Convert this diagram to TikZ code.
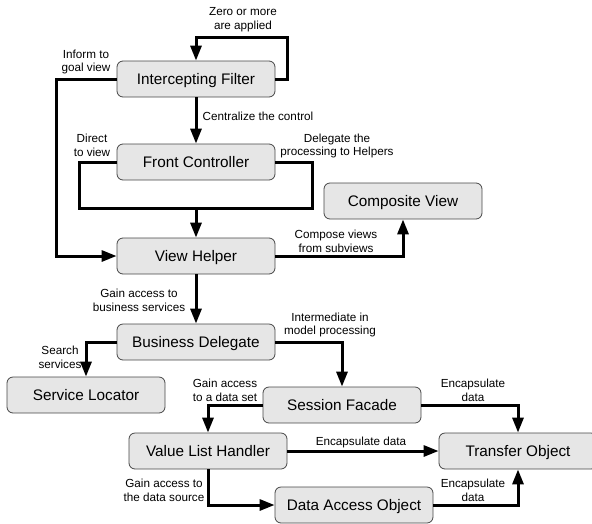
\documentclass[tikz,border=0pt]{standalone}
\usepackage{fontspec}
\setmainfont{Liberation Sans}
\usetikzlibrary{arrows.meta}
\definecolor{boxfill}{RGB}{230,230,230}
\definecolor{boxline}{RGB}{70,70,70}
\begin{document}
\begin{tikzpicture}[x=1pt,y=-1pt,
  pattern/.style={draw=boxline, line width=0.8pt, fill=boxfill, rounded corners=6pt,
    minimum width=158pt, minimum height=36pt, inner sep=0pt,
    text height=11pt, text depth=0pt,
    font=\fontsize{15.3}{18}\selectfont},
  lbl/.style={align=center, inner sep=0pt, font=\fontsize{11.7}{13.8}\selectfont},
  conn/.style={line width=3pt, line join=miter},
  arr/.style={conn, -{Triangle[length=15pt,width=11pt]}}]
\useasboundingbox (0,0) rectangle (592,523);

% patterns
\node[pattern] (if)  at (196,79)  {Intercepting Filter};
\node[pattern] (fc)  at (196,162) {Front Controller};
\node[pattern] (cv)  at (403,201) {Composite View};
\node[pattern] (vh)  at (196,256) {View Helper};
\node[pattern] (bd)  at (196,342) {Business Delegate};
\node[pattern] (sl)  at (86,395)  {Service Locator};
\node[pattern] (sf)  at (342,405) {Session Facade};
\node[pattern] (vlh) at (208,451) {Value List Handler};
\node[pattern] (to)  at (518,451) {Transfer Object};
\node[pattern] (dao) at (354,505) {Data Access Object};

% bend points
\coordinate (loop) at (287,37);
\coordinate (join) at (196,208);

% relations
\draw[arr] (if.east) -| (loop) -| (if.north);
\draw[arr] (if.south) -- (fc.north);
\draw[arr] (if.west) -- ++(-60,0) |- (vh.west);
\draw[conn] (fc.west) -- ++(-37,0) |- (join);
\draw[conn] (fc.east) -- ++(37,0) |- (join);
\draw[arr] (join) -- (vh.north);
\draw[arr] (vh.east) -| (cv.south);
\draw[arr] (vh.south) -- (bd.north);
\draw[arr] (bd.west) -| (sl.north);
\draw[arr] (bd.east) -| (sf.north);
\draw[arr] (sf.west) -| (vlh.north);
\draw[arr] (sf.east) -| (to.north);
\draw[arr] (vlh.east) -- (to.west);
\draw[arr] (vlh.south) |- (dao.west);
\draw[arr] (dao.east) -| (to.south);

% relation labels
\node[lbl] (l1)  at (243,20)  {Zero or more\\are applied};
\node[lbl] (l2)  at (86,62)   {Inform to\\goal view};
\node[lbl] (l3)  at (258,116) {Centralize the control};
\node[lbl] (l4)  at (92,145)  {Direct\\to view};
\node[lbl] (l5)  at (337,146) {Delegate the\\processing to Helpers};
\node[lbl] (l6)  at (336,241) {Compose views\\from subviews};
\node[lbl] (l7)  at (139,300) {Gain access to\\business services};
\node[lbl] (l8)  at (60,357)  {Search\\services};
\node[lbl] (l9)  at (330,325) {Intermediate in\\model processing};
\node[lbl] (l10) at (225,390) {Gain access\\to a data set};
\node[lbl] (l11) at (473,390) {Encapsulate\\data};
\node[lbl] (l12) at (361,442) {Encapsulate data};
\node[lbl] (l13) at (164,490) {Gain access to\\the data source};
\node[lbl] (l14) at (473,490) {Encapsulate\\data};
\end{tikzpicture}
\end{document}
